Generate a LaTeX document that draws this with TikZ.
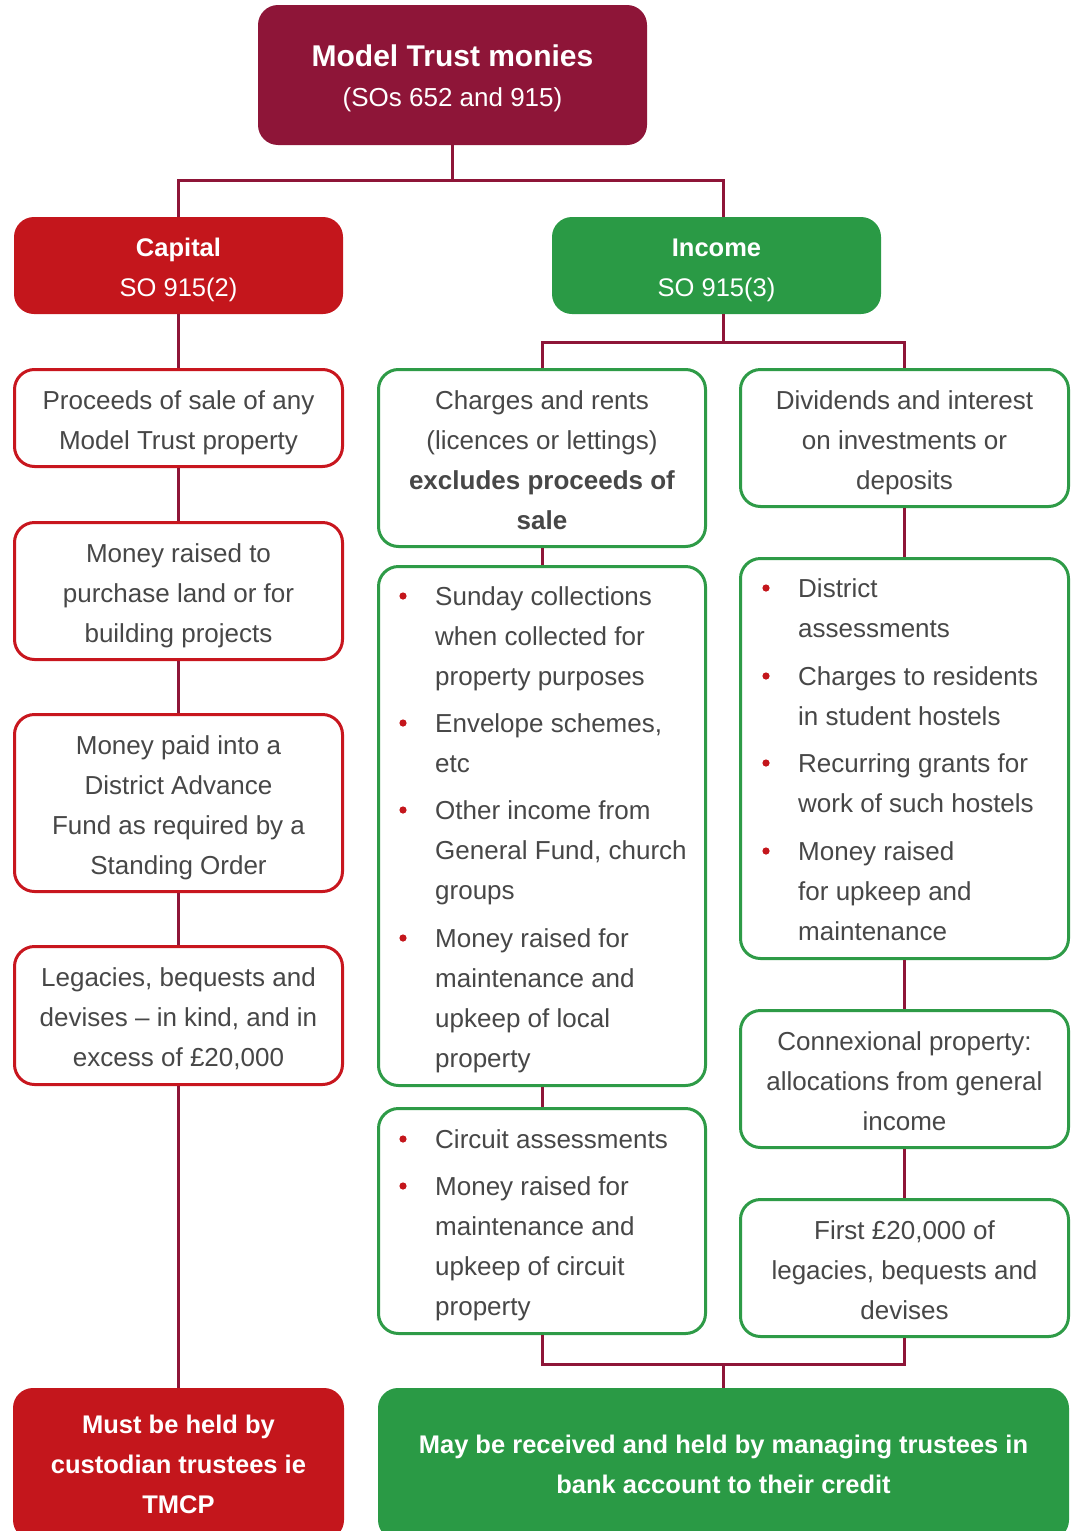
\documentclass[tikz,border=0pt]{standalone}
\usepackage{fontspec}
\setmainfont{Liberation Sans}
\definecolor{mtmaroon}{HTML}{8E1538}
\definecolor{mtred}{HTML}{C4161C}
\definecolor{mtgreen}{HTML}{2A9A45}
\definecolor{mtgreenline}{HTML}{2E9B47}
\definecolor{mtredline}{HTML}{C8161E}
\definecolor{mttext}{HTML}{474747}
\newcommand\mtbody{\fontsize{26}{40}\selectfont}
\newcommand\mtbold{\fontsize{25.5}{40}\selectfont\bfseries}
\newcommand\mtsub{\fontsize{25.5}{40}\selectfont}
\newcommand\mttop{\rule{0pt}{30pt}}
\newcommand\mtbot{\rule[-8pt]{0pt}{8pt}}
\tikzset{
  conn/.style={draw=mtmaroon, line width=3pt},
  fillbox/.style={rounded corners=20pt, fill=#1, inner sep=0pt, align=center, text=white},
  wbox/.style={rounded corners=20pt, draw=#1, line width=3pt, fill=white, inner sep=0pt,
               align=center, text=mttext, font=\mtbody},
  bultext/.style={anchor=north west, inner sep=0pt, align=left, text=mttext, font=\mtbody},
  bulletdot/.style={fill=mtred}
}
\begin{document}
\begin{tikzpicture}[x=1pt,y=-1pt]
\useasboundingbox (0,0) rectangle (1076,1531);
\clip (0,0) rectangle (1076,1531);

% filled boxes
\node[fillbox=mtmaroon, minimum width=389pt, minimum height=140pt, font=\mtbody] (top) at (452.5,75)
  {\mttop{\fontsize{30}{40}\selectfont\bfseries Model Trust monies}\\(SOs 652 and 915)\mtbot};
\node[fillbox=mtred, minimum width=329pt, minimum height=97pt, font=\mtsub] (capital) at (178.5,265.5)
  {\mttop\textbf{Capital}\\SO 915(2)\mtbot};
\node[fillbox=mtgreen, minimum width=329pt, minimum height=97pt, font=\mtsub] (income) at (716.5,265.5)
  {\mttop\textbf{Income}\\SO 915(3)\mtbot};
\node[fillbox=mtred, minimum width=331pt, minimum height=152pt, font=\mtbold] (must) at (178.5,1464)
  {Must be held by\\custodian trustees ie\\TMCP};
\node[fillbox=mtgreen, minimum width=691pt, minimum height=152pt, font=\mtbold] (may) at (723.5,1464)
  {May be received and held by managing trustees in\\bank account to their credit};

% left column
\node[wbox=mtredline, minimum width=328pt, minimum height=97pt] (p1) at (178.5,418)
  {\mttop Proceeds of sale of any\\Model Trust property\mtbot};
\node[wbox=mtredline, minimum width=328pt, minimum height=137pt] (p2) at (178.5,591)
  {\mttop Money raised to\\purchase land or for\\building projects\mtbot};
\node[wbox=mtredline, minimum width=328pt, minimum height=177pt] (p3) at (178.5,803)
  {\mttop Money paid into a\\District Advance\\Fund as required by a\\Standing Order\mtbot};
\node[wbox=mtredline, minimum width=328pt, minimum height=138pt] (p4) at (178.5,1015.5)
  {\mttop Legacies, bequests and\\devises -- in kind, and in\\excess of £20,000\mtbot};

% middle column
\node[wbox=mtgreenline, minimum width=327pt, minimum height=177pt] (m1) at (542,458)
  {\mttop Charges and rents\\(licences or lettings)\\\textbf{excludes proceeds of}\\\textbf{sale}\mtbot};
\node[wbox=mtgreenline, minimum width=327pt, minimum height=519pt] (m2) at (542,826) {};
\node[wbox=mtgreenline, minimum width=327pt, minimum height=225pt] (m3) at (542,1221) {};

% right column
\node[wbox=mtgreenline, minimum width=328pt, minimum height=137pt] (r1) at (904.5,438)
  {\mttop Dividends and interest\\on investments or\\deposits\mtbot};
\node[wbox=mtgreenline, minimum width=328pt, minimum height=400pt] (r2) at (904.5,758.5) {};
\node[wbox=mtgreenline, minimum width=328pt, minimum height=137pt] (r3) at (904.5,1079)
  {\mttop Connexional property:\\allocations from general\\income\mtbot};
\node[wbox=mtgreenline, minimum width=328pt, minimum height=137pt] (r4) at (904.5,1268)
  {\mttop First £20,000 of\\legacies, bequests and\\devises\mtbot};

% bullet texts (north = baseline - 28)
\node[bultext] (m2a) at (435,577) {\strut Sunday collections\\when collected for\\property purposes};
\node[bultext] (m2b) at (435,704) {\strut Envelope schemes,\\etc};
\node[bultext] (m2c) at (435,791) {\strut Other income from\\General Fund, church\\groups};
\node[bultext] (m2d) at (435,919) {\strut Money raised for\\maintenance and\\upkeep of local\\property};
\node[bultext] (m3a) at (435,1120) {\strut Circuit assessments};
\node[bultext] (m3b) at (435,1167) {\strut Money raised for\\maintenance and\\upkeep of circuit\\property};
\node[bultext] (r2a) at (798,569) {\strut District\\assessments};
\node[bultext] (r2b) at (798,657) {\strut Charges to residents\\in student hostels};
\node[bultext] (r2c) at (798,744) {\strut Recurring grants for\\work of such hostels};
\node[bultext] (r2d) at (798,832) {\strut Money raised\\for upkeep and\\maintenance};

\foreach \y in {596,723,810,938,1139,1186} \fill[bulletdot] (403,\y) circle (3.6pt);
\foreach \y in {588,676,763,851} \fill[bulletdot] (766,\y) circle (3.6pt);

% connectors
\coordinate (bus1) at (452.5,180);
\draw[conn] (top.south) -- (bus1);
\draw[conn] (capital.north) -- (capital.north |- bus1) -- (bus1 -| may.north) -- (income.north -| may.north);

\draw[conn] (capital.south) -- (p1.north);
\draw[conn] (p1.south) -- (p2.north);
\draw[conn] (p2.south) -- (p3.north);
\draw[conn] (p3.south) -- (p4.north);
\draw[conn] (p4.south) -- (must.north);

\coordinate (bus2) at (723.5,342);
\draw[conn] (income.south -| may.north) -- (bus2);
\draw[conn] (m1.north) -- (m1.north |- bus2) -- (bus2 -| r1.north) -- (r1.north);

\draw[conn] (m1.south) -- (m2.north);
\draw[conn] (m2.south) -- (m3.north);
\draw[conn] (r1.south) -- (r2.north);
\draw[conn] (r2.south) -- (r3.north);
\draw[conn] (r3.south) -- (r4.north);

\coordinate (bus3) at (723.5,1364);
\draw[conn] (m3.south) -- (m3.south |- bus3) -- (bus3 -| r4.south) -- (r4.south);
\draw[conn] (bus3) -- (may.north);
\end{tikzpicture}
\end{document}
